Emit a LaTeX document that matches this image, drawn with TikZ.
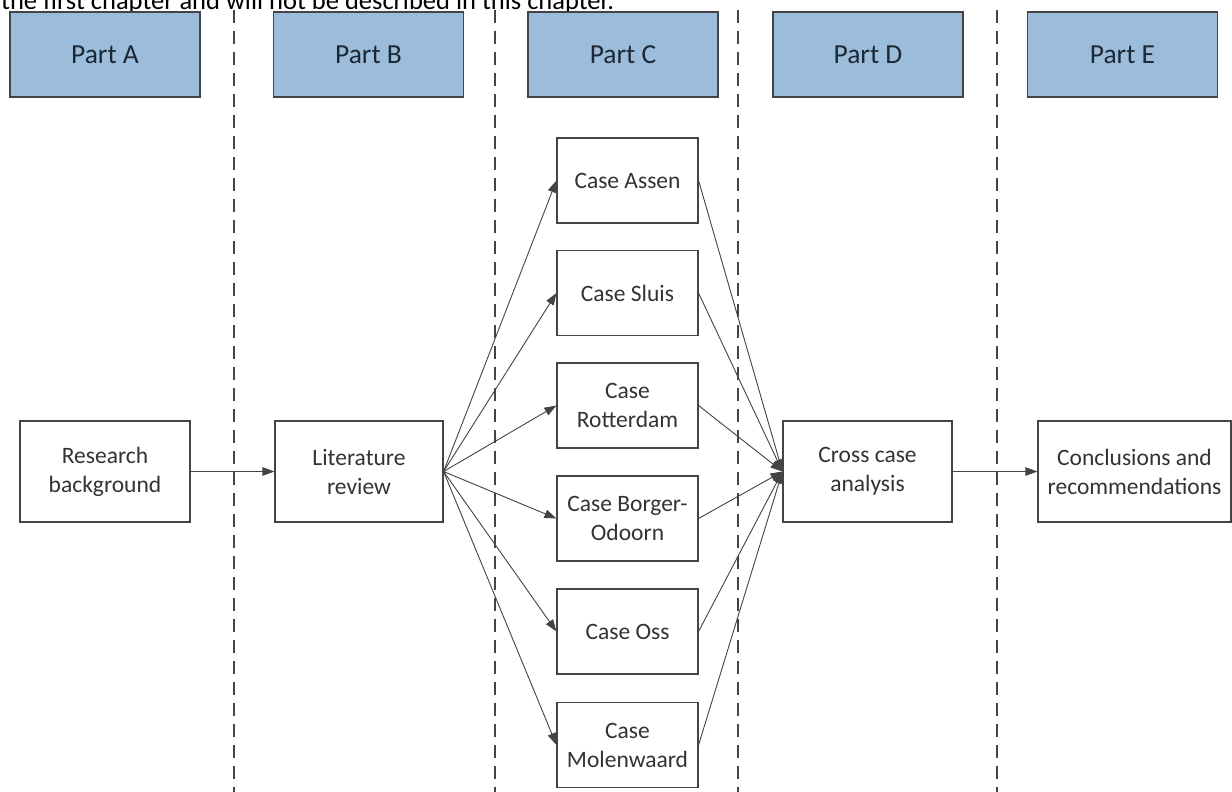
\documentclass[tikz,border=0pt]{standalone}
\usepackage{fontspec}
\setmainfont{Carlito}
\usetikzlibrary{arrows.meta}
\definecolor{headfill}{HTML}{9CBCDB}
\definecolor{headtext}{HTML}{1C2835}
\definecolor{edge}{HTML}{444444}
\definecolor{bodytext}{HTML}{333333}
\tikzset{
  parthead/.style={draw=edge, line width=1.1pt, fill=headfill, minimum width=190pt, minimum height=85pt,
    inner sep=0pt, text=headtext, font=\fontsize{27.5}{33}\selectfont},
  stagebox/.style={draw=edge, line width=1.1pt, fill=white, minimum height=101pt, inner sep=0pt,
    text=bodytext, align=center, font=\fontsize{23.5}{29}\selectfont},
  casebox/.style={draw=edge, line width=1.1pt, fill=white, minimum width=141pt, minimum height=85pt,
    inner sep=0pt, text=bodytext, align=center, font=\fontsize{23.5}{29}\selectfont},
  divider/.style={draw=edge, line width=1.2pt, dash pattern=on 13pt off 8pt},
  flow/.style={draw=edge, line width=0.9pt, -{Triangle[length=12pt,width=8.5pt]}}
}
\begin{document}
\begin{tikzpicture}[x=1pt,y=-1pt]
\useasboundingbox (0,0) rectangle (1232,792);
\fill[white] (0,0) rectangle (1232,792);

% running text above the figure (its upper half lies beyond the page edge)
\node[anchor=base west, inner sep=0pt, text=black, font=\fontsize{26.5}{32}\selectfont] (caption) at (1,10)
  {the first chapter and will not be described in this chapter.};

% phase separators
\foreach \x/\n in {234/d1,495/d2,738/d3,997/d4}{
  \coordinate (\n top) at (\x,10);
  \coordinate (\n bot) at (\x,792);
  \draw[divider] (\n top) -- (\n bot);
}

% phase headers
\node[parthead] (pa) at (105,54.5) {Part A};
\node[parthead] (pb) at (368.5,54.5) {Part B};
\node[parthead] (pc) at (623,54.5) {Part C};
\node[parthead] (pd) at (868,54.5) {Part D};
\node[parthead] (pe) at (1122.5,54.5) {Part E};

% main stages
\node[stagebox, minimum width=170pt] (rb) at (105,471.5) {Research\\background};
\node[stagebox, minimum width=168pt] (lr) at (359,471.5) {Literature\\review};
\node[stagebox, minimum width=169pt] (cc) at (867.5,471.5) {Cross case\\analysis};
\node[stagebox, minimum width=193pt] (cr) at (1134.5,471.5) {Conclusions and\\recommendations};

% case studies
\node[casebox] (c1) at (627.5,180.5) {Case Assen};
\node[casebox] (c2) at (627.5,293) {Case Sluis};
\node[casebox] (c3) at (627.5,405.5) {Case\\Rotterdam};
\node[casebox] (c4) at (627.5,518.5) {Case Borger-\\Odoorn};
\node[casebox] (c5) at (627.5,631.5) {Case Oss};
\node[casebox] (c6) at (627.5,745) {Case\\Molenwaard};

% connectors
\draw[flow] (rb.east) -- (lr.west);
\foreach \c in {c1,c2,c3,c4,c5,c6}{
  \draw[flow] (lr.east) -- (\c.west);
  \draw[flow] (\c.east) -- (cc.west);
}
\draw[flow] (cc.east) -- (cr.west);
\end{tikzpicture}
\end{document}
